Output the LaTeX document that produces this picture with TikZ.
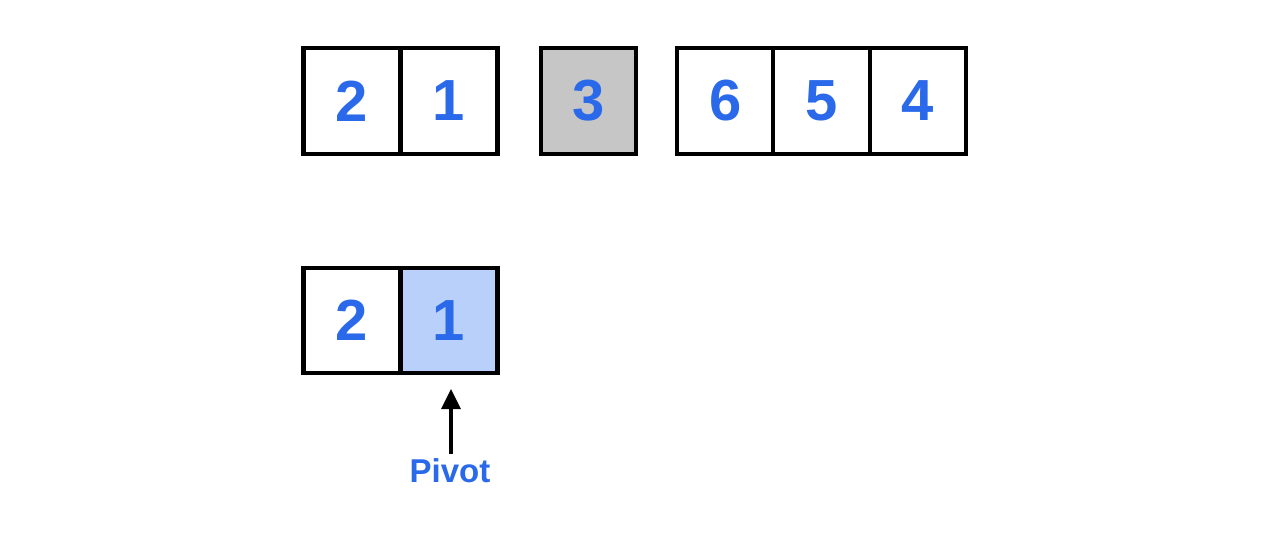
\documentclass[tikz,border=0pt]{standalone}
\usepackage{fontspec}
\setmainfont{Liberation Sans}
\usepackage{tikz}
\usetikzlibrary{positioning,arrows.meta}

\definecolor{numblue}{HTML}{2A6AEA}
\definecolor{pivotfill}{HTML}{B8D0FA}
\definecolor{donefill}{HTML}{C6C6C6}

\tikzset{
  cell/.style={draw, line width=4.2pt, minimum width=97pt, minimum height=106pt,
    inner sep=0pt, outer sep=0pt, text=numblue,
    font=\fontsize{58}{60}\selectfont\bfseries},
  label/.style={text=numblue, font=\fontsize{33}{36}\selectfont\bfseries}
}

\begin{document}
\begin{tikzpicture}[x=1pt,y=-1pt]
    \useasboundingbox (0,0) rectangle (1282,558);

    % Left part
    \node[cell] (l2) at (352,101) {2};
    \node[cell] (l1) at (449,101) {1};

    % Sorted pivot
    \node[cell, fill=donefill, minimum width=95pt] (p3) at (588.5,101) {3};

    % Right part
    \node[cell, minimum width=96.3pt] (r6) at (725.2,101) {6};
    \node[cell, minimum width=96.3pt] (r5) at (821.5,101) {5};
    \node[cell, minimum width=96.3pt] (r4) at (917.8,101) {4};

    % Next step on the left part
    \node[cell, minimum height=105pt] (b2) at (352,320.5) {2};
    \node[cell, minimum height=105pt, fill=pivotfill] (b1) at (449,320.5) {1};

    % Pivot marker
    \node[label] (piv) at (450,471) {Pivot};
    \draw[line width=3.2pt, -{Triangle[length=20pt,width=19pt]}] (piv.north -| 451,0) ++(0,-1) -- ([xshift=2pt,yshift=-16pt]b1.south);
\end{tikzpicture}
\end{document}
